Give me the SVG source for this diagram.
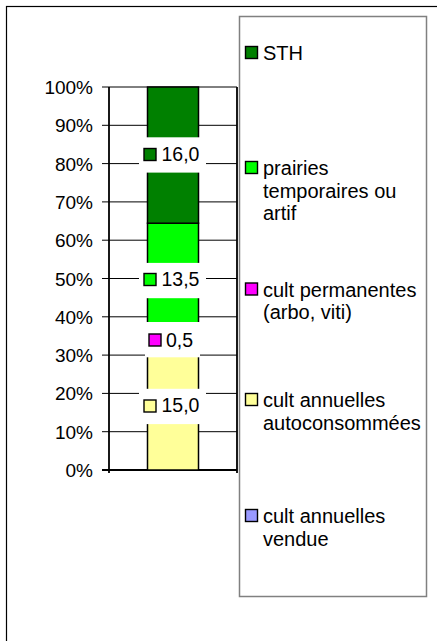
<svg xmlns="http://www.w3.org/2000/svg" width="437" height="641" viewBox="0 0 437 641">
<style>
text{font-family:"Liberation Sans",Arial,sans-serif;fill:#000}
.ax{font-size:19px;text-anchor:end}
.lb{font-size:19.5px}
.lg{font-size:20px}
.grid{stroke:#000;stroke-width:1}
.key{stroke:#000;stroke-width:1.4}
.bar{stroke:#000;stroke-width:1.5}
</style>
<rect x="0" y="0" width="437" height="641" fill="#fff"/>
<rect x="6.5" y="6.5" width="440" height="650" fill="none" stroke="#000" stroke-width="1.2"/>

<g id="plot">
  <rect x="109" y="87" width="128" height="383" fill="#fff"/>
  <g class="grid">
    <line x1="102" y1="87" x2="237" y2="87"/>
    <line x1="102" y1="125.3" x2="237" y2="125.3"/>
    <line x1="102" y1="163.6" x2="237" y2="163.6"/>
    <line x1="102" y1="201.9" x2="237" y2="201.9"/>
    <line x1="102" y1="240.2" x2="237" y2="240.2"/>
    <line x1="102" y1="278.5" x2="237" y2="278.5"/>
    <line x1="102" y1="316.8" x2="237" y2="316.8"/>
    <line x1="102" y1="355.1" x2="237" y2="355.1"/>
    <line x1="102" y1="393.4" x2="237" y2="393.4"/>
    <line x1="102" y1="431.7" x2="237" y2="431.7"/>
    <line x1="102" y1="470" x2="237" y2="470"/>
  </g>
  <g stroke="#000" stroke-width="1.8" fill="none">
    <line x1="109" y1="87" x2="109" y2="473"/>
    <line x1="237" y1="87" x2="237" y2="473"/>
    <line x1="102" y1="470" x2="237" y2="470"/>
  </g>
  <g class="ax">
    <text x="93" y="94">100%</text>
    <text x="93" y="132.3">90%</text>
    <text x="93" y="170.6">80%</text>
    <text x="93" y="208.9">70%</text>
    <text x="93" y="247.2">60%</text>
    <text x="93" y="285.5">50%</text>
    <text x="93" y="323.8">40%</text>
    <text x="93" y="362.1">30%</text>
    <text x="93" y="400.4">20%</text>
    <text x="93" y="438.7">10%</text>
    <text x="93" y="477">0%</text>
  </g>
</g>

<g id="bar">
  <rect class="bar" x="147.5" y="342.33" width="51" height="127.67" fill="#FFFF99"/>
  <rect class="bar" x="147.5" y="338.07" width="51" height="4.26" fill="#FF00FF"/>
  <rect class="bar" x="147.5" y="223.2" width="51" height="114.87" fill="#00FF00"/>
  <rect class="bar" x="147.5" y="87" width="51" height="136.2" fill="#008000"/>
</g>

<g id="labels">
  <g id="label-sth">
    <rect x="139" y="137.3" width="67" height="35.3" fill="#fff"/>
    <rect class="key" x="144" y="148.5" width="12" height="12" fill="#008000"/>
    <text class="lb" x="161.5" y="161">16,0</text>
  </g>
  <g id="label-prairies">
    <rect x="139" y="262.9" width="67" height="35.3" fill="#fff"/>
    <rect class="key" x="144" y="273.5" width="12" height="12" fill="#00FF00"/>
    <text class="lb" x="161.5" y="286">13,5</text>
  </g>
  <g id="label-perm">
    <rect x="145" y="322" width="55" height="35.3" fill="#fff"/>
    <rect class="key" x="149" y="334" width="12" height="12" fill="#FF00FF"/>
    <text class="lb" x="166" y="346.5">0,5</text>
  </g>
  <g id="label-auto">
    <rect x="139" y="388.8" width="67" height="35.3" fill="#fff"/>
    <rect class="key" x="144" y="400" width="12" height="12" fill="#FFFF99"/>
    <text class="lb" x="161.5" y="412">15,0</text>
  </g>
</g>

<g id="legend">
  <rect x="239.5" y="16.5" width="187" height="580" fill="#fff" stroke="#808080" stroke-width="1.5"/>
  <g id="leg-sth">
    <rect class="key" x="245.5" y="46.5" width="12" height="12" fill="#008000"/>
    <text class="lg" x="263" y="60">STH</text>
  </g>
  <g id="leg-prairies">
    <rect class="key" x="245.5" y="161.5" width="12" height="12" fill="#00FF00"/>
    <text class="lg" x="263" y="175">prairies</text>
    <text class="lg" x="263" y="197.5">temporaires ou</text>
    <text class="lg" x="263" y="220">artif</text>
  </g>
  <g id="leg-perm">
    <rect class="key" x="245.5" y="283" width="12" height="12" fill="#FF00FF"/>
    <text class="lg" x="263" y="296.5">cult permanentes</text>
    <text class="lg" x="263" y="319">(arbo, viti)</text>
  </g>
  <g id="leg-auto">
    <rect class="key" x="245.5" y="393.5" width="12" height="12" fill="#FFFF99"/>
    <text class="lg" x="263" y="407">cult annuelles</text>
    <text class="lg" x="263" y="429.5">autoconsommées</text>
  </g>
  <g id="leg-vendue">
    <rect class="key" x="245.5" y="509.5" width="12" height="12" fill="#9999FF"/>
    <text class="lg" x="263" y="523">cult annuelles</text>
    <text class="lg" x="263" y="545.5">vendue</text>
  </g>
</g>
</svg>
